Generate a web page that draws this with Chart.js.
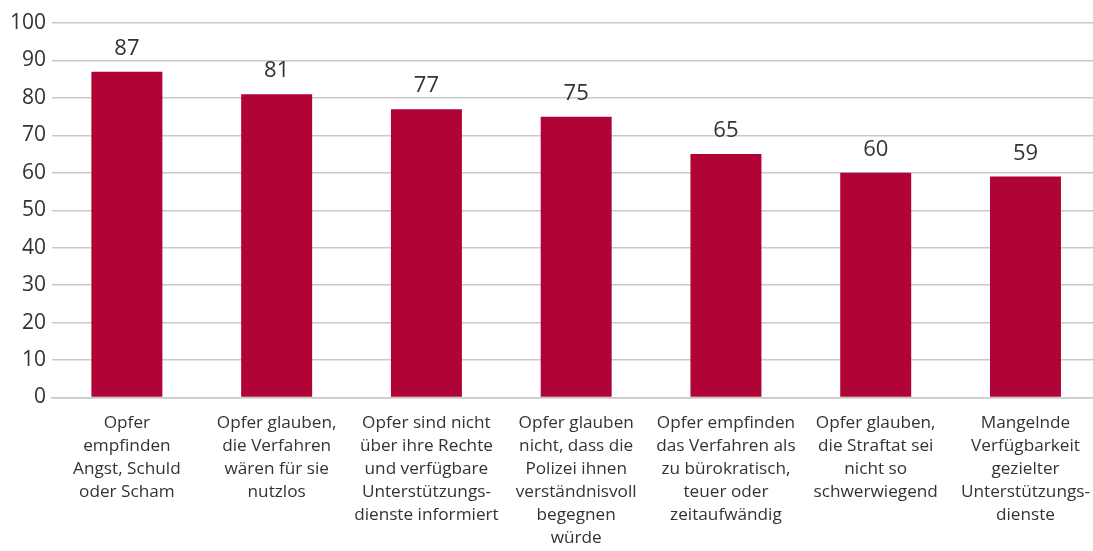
<!DOCTYPE html>
<html>
<head>
<meta charset="utf-8">
<script src="https://cdn.jsdelivr.net/npm/chart.js@4"></script>
<style>
    html, body { margin: 0; padding: 0; background: #fff; overflow: hidden; }
    #barChart { display: block; }
</style>
</head>
<body>
<canvas id="barChart" width="1104" height="551"></canvas>
<script>
// Chart data
const categories = [
    ['Opfer', 'empfinden', 'Angst, Schuld', 'oder Scham'],
    ['Opfer glauben,', 'die Verfahren', 'wären für sie', 'nutzlos'],
    ['Opfer sind nicht', 'über ihre Rechte', 'und verfügbare', 'Unterstützungs-', 'dienste informiert'],
    ['Opfer glauben', 'nicht, dass die', 'Polizei ihnen', 'verständnisvoll', 'begegnen', 'würde'],
    ['Opfer empfinden', 'das Verfahren als', 'zu bürokratisch,', 'teuer oder', 'zeitaufwändig'],
    ['Opfer glauben,', 'die Straftat sei', 'nicht so', 'schwerwiegend'],
    ['Mangelnde', 'Verfügbarkeit', 'gezielter', 'Unterstützungs-', 'dienste']
];
const values = [87, 81, 77, 75, 65, 60, 59];
const yTicks = [0, 10, 20, 30, 40, 50, 60, 70, 80, 90, 100];

const barColor = '#B00437';
const textColor = '#333333';
const gridColor = '#c9c9c9';
const fontFamily = '"Open Sans", "DejaVu Sans", sans-serif';

// value labels above each bar
const valueLabels = {
    id: 'valueLabels',
    afterDatasetsDraw(chart) {
        const c = chart.ctx;
        const meta = chart.getDatasetMeta(0);
        c.save();
        c.font = '22px ' + fontFamily;
        c.fillStyle = textColor;
        c.textAlign = 'center';
        c.textBaseline = 'middle';
        meta.data.forEach((bar, i) => {
            c.fillText(String(values[i]), bar.x, bar.y - 23);
        });
        c.restore();
    }
};

const chartData = {
    labels: categories,
    datasets: [{
        data: values,
        backgroundColor: barColor,
        borderWidth: 0,
        barPercentage: 0.474,
        categoryPercentage: 1.0
    }]
};

const ctx = document.getElementById('barChart').getContext('2d');
new Chart(ctx, {
    type: 'bar',
    data: chartData,
    options: {
        responsive: false,
        animation: false,
        devicePixelRatio: 1,
        layout: { padding: { top: 23, right: 0, left: 0, bottom: 0 } },
        plugins: {
            legend: { display: false },
            tooltip: { enabled: false }
        },
        scales: {
            x: {
                grid: { display: false, drawTicks: false },
                border: { color: gridColor, width: 1.5 },
                ticks: {
                    color: textColor,
                    font: { family: fontFamily, size: 17.2, lineHeight: 1.34 },
                    padding: 14,
                    maxRotation: 0,
                    autoSkip: false
                },
                afterFit(scale) { scale.height = 153.5; }
            },
            y: {
                min: 0,
                max: 100,
                afterBuildTicks(scale) { scale.ticks = yTicks.map(v => ({ value: v })); },
                grid: { color: gridColor, lineWidth: 1.5, drawTicks: false },
                border: { display: false },
                ticks: {
                    color: textColor,
                    font: { family: fontFamily, size: 21 },
                    padding: 6
                },
                afterFit(scale) { scale.width = 52; }
            }
        }
    },
    plugins: [valueLabels]
});
</script>
</body>
</html>
